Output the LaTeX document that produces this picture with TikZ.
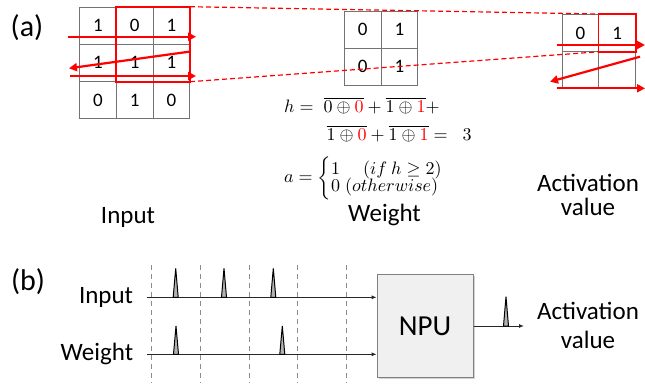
\documentclass[tikz,border=0pt]{standalone}
\usepackage{amsmath,amssymb}
\usepackage{fontspec}
\setmainfont{Carlito}
\usetikzlibrary{arrows.meta,shadows}
\begin{document}
\begin{tikzpicture}[x=1pt,y=-1pt,
  cellbox/.style={draw=black!55,line width=0.8pt,minimum width=36.7pt,minimum height=37pt,inner sep=0pt,anchor=north west,font=\fontsize{19}{19}\selectfont},
  redbox/.style={draw=red,line width=1.6pt},
  redarrow/.style={draw=red,line width=2.2pt,-{Triangle[length=8pt,width=8pt]}},
  reddash/.style={draw=red,line width=1.2pt,dash pattern=on 5pt off 3pt},
  lbl/.style={font=\fontsize{25}{25}\selectfont,inner sep=0pt},
  eqs/.style={anchor=west,inner sep=0pt},
  sig/.style={draw=black!85,line width=1pt,-{Latex[length=5pt,width=4pt]}},
  tick/.style={draw=black!45,line width=0.9pt,dash pattern=on 5pt off 4pt},
  spike/.style={draw=black,line width=1pt,fill=black!30}]
\useasboundingbox (0,0) rectangle (645,383);
% (a) label
\node[font=\fontsize{30}{30}\selectfont,inner sep=0pt] (la) at (27,28) {(a)};
% input grid
\foreach \r/\row in {0/{1,0,1},1/{1,1,1},2/{0,1,0}}{
  \foreach \v [count=\c from 0] in \row {
    \node[cellbox] (i\r\c) at (79.3+36.7*\c,6.7+37.2*\r) {\v};
  }}
\draw[redbox] (i01.north west) rectangle (i12.south east);
\coordinate (ia1s) at (68,36.7); \coordinate (ia1e) at (196,36.7);
\coordinate (ia2s) at (189,51.7); \coordinate (ia2e) at (69,68.3);
\coordinate (ia3s) at (70,76); \coordinate (ia3e) at (196,76);
\draw[redarrow] (ia1s) -- (ia1e);
\draw[redarrow] (ia2s) -- (ia2e);
\draw[redarrow] (ia3s) -- (ia3e);
% weight grid
\foreach \r/\row in {0/{0,1},1/{0,1}}{
  \foreach \v [count=\c from 0] in \row {
    \node[cellbox] (w\r\c) at (344+36.7*\c,10.7+37.2*\r) {\v};
  }}
% output grid
\node[cellbox] (o00) at (561.7,14) {0};
\node[cellbox,minimum width=37pt] (o01) at (598.4,14) {1};
\node[cellbox] (o10) at (561.7,51.2) {};
\node[cellbox,minimum width=37pt] (o11) at (598.4,51.2) {};
\draw[redbox] (o01.north west) rectangle (o01.south east);
\draw[reddash] (i02.north east) -- (o01.north west);
\draw[reddash] (i12.south east) -- (o01.south west);
\coordinate (oa1s) at (556.7,45); \coordinate (oa1e) at (645,45);
\coordinate (oa2s) at (640,56.7); \coordinate (oa2e) at (550,81.7);
\coordinate (oa3s) at (556.7,88.3); \coordinate (oa3e) at (645,88.3);
\draw[redarrow] (oa1s) -- (oa1e);
\draw[redarrow] (oa2s) -- (oa2e);
\draw[redarrow] (oa3s) -- (oa3e);
% equations
\node[eqs] (eq1) at (284,106)
 {\scalebox{1.8}{$h=\;\overline{0\oplus{\color{red}0}}+\overline{1\oplus{\color{red}1}}+$}};
\node[eqs] (eq2) at (326.5,133.5)
 {\scalebox{1.8}{$\overline{1\oplus{\color{red}0}}+\overline{1\oplus{\color{red}1}}=\;\;3$}};
\node[eqs] (eq3) at (284,178)
 {\scalebox{1.8}{$a=\begin{cases}1\quad\;(if\ h\geq 2)\\[-5pt]0\;(otherwise)\end{cases}$}};
% labels (a)
\node[lbl,anchor=base] (tin) at (128,223) {Input};
\node[lbl,anchor=base] (tw) at (384.5,221.5) {Weight};
\node[lbl,anchor=base,align=center] (tact) at (588,191.7) {Activation};
\node[lbl,anchor=base] (tval) at (588,215) {value};
% (b)
\node[font=\fontsize{30}{30}\selectfont,inner sep=0pt] (lb) at (28,282) {(b)};
\node[lbl,anchor=east] (bin) at (133.3,297) {Input};
\node[lbl,anchor=east] (bw) at (133.3,354) {Weight};
\foreach \x in {151.7,200.7,249.3,297.7,346.7}{
  \draw[tick] (\x,265) -- (\x,383);
}
\node[draw=black!50,fill=black!6,line width=0.8pt,minimum width=96pt,minimum height=103.3pt,
  anchor=north west,drop shadow={shadow xshift=1.5pt,shadow yshift=-1.5pt,opacity=0.35},
  font=\fontsize{29}{29}\selectfont] (npu) at (376.7,274) {NPU};
\coordinate (sin) at (146.7,297.3);
\coordinate (sw) at (146.7,354.3);
\draw[sig] (sin) -- (sin -| npu.west);
\draw[sig] (sw) -- (sw -| npu.west);
\coordinate (sout) at (524,326);
\draw[sig] (npu.east |- sout) -- (sout);
\foreach \x/\yb/\yt in {175.7/297.3/268.3,224/297.3/268.3,273.3/297.3/268.3,176/354.3/326,282.3/354.3/326,506/326/296.7}{
  \draw[spike] (\x-2.5,\yb) -- (\x,\yt) -- (\x+2.5,\yb) -- cycle;
}
\node[lbl,anchor=base] (bact) at (588,319.5) {Activation};
\node[lbl,anchor=base] (bval) at (588,348) {value};
\end{tikzpicture}
\end{document}
